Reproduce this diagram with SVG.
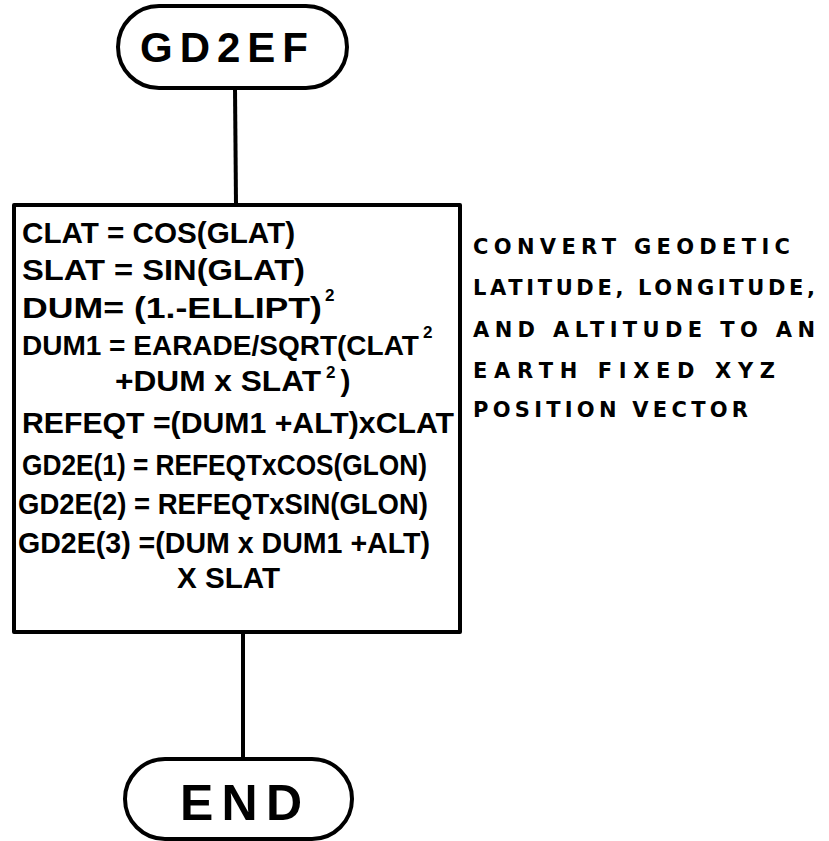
<svg xmlns="http://www.w3.org/2000/svg" width="829" height="841" viewBox="0 0 829 841">
  <style>
    .shape { fill: #ffffff; stroke: #000000; stroke-width: 4; stroke-linejoin: round; }
    .conn { fill: none; stroke: #000000; stroke-width: 4; }
    .t { font-family: "Liberation Sans", "DejaVu Sans", sans-serif; font-weight: bold; fill: #000000; }
    .body { font-size: 30px; }
    .sup { font-size: 17px; }
    .note { font-family: "DejaVu Sans", "Liberation Sans", sans-serif; font-size: 21px; }
    .term { font-size: 42px; }
  </style>
  <rect width="829" height="841" fill="#ffffff"/>

  <!-- connectors -->
  <g id="connectors">
    <line class="conn" x1="235" y1="88" x2="236" y2="205"/>
    <line class="conn" x1="243" y1="632" x2="243" y2="759"/>
  </g>

  <!-- start terminal -->
  <g id="start">
    <rect class="shape" x="118" y="6" width="229" height="82" rx="41" ry="41"/>
    <text class="t term" x="140" y="62" textLength="168" lengthAdjust="spacing">GD2EF</text>
  </g>

  <!-- process box -->
  <g id="process">
    <rect class="shape" x="14" y="205" width="446" height="427"/>
    <text class="t body" x="22" y="243" textLength="273" lengthAdjust="spacingAndGlyphs">CLAT = COS(GLAT)</text>
    <text class="t body" x="22" y="280" textLength="283" lengthAdjust="spacingAndGlyphs">SLAT = SIN(GLAT)</text>
    <text class="t body" x="22" y="318"><tspan textLength="300" lengthAdjust="spacingAndGlyphs">DUM= (1.-ELLIPT)</tspan><tspan class="sup" dx="3" dy="-17">2</tspan></text>
    <text class="t" x="22" y="355" style="font-size:28px">DUM1 = EARADE/SQRT(CLAT<tspan class="sup" dx="4" dy="-17">2</tspan></text>
    <text class="t body" x="115" y="391"><tspan textLength="206" lengthAdjust="spacingAndGlyphs">+DUM x SLAT</tspan><tspan class="sup" dx="5" dy="-13">2</tspan><tspan dx="5" dy="13">)</tspan></text>
    <text class="t body" x="22" y="433" textLength="432" lengthAdjust="spacingAndGlyphs">REFEQT =(DUM1 +ALT)xCLAT</text>
    <text class="t body" x="22" y="475" textLength="405" lengthAdjust="spacingAndGlyphs">GD2E(1) = REFEQTxCOS(GLON)</text>
    <text class="t body" x="18" y="514" textLength="410" lengthAdjust="spacingAndGlyphs">GD2E(2) = REFEQTxSIN(GLON)</text>
    <text class="t body" x="18" y="553" textLength="412" lengthAdjust="spacingAndGlyphs">GD2E(3) =(DUM x DUM1 +ALT)</text>
    <text class="t body" x="177" y="588" textLength="103" lengthAdjust="spacingAndGlyphs">X SLAT</text>
  </g>

  <!-- annotation -->
  <g id="note">
    <text class="t note" x="473" y="254" textLength="317" lengthAdjust="spacing">CONVERT  GEODETIC</text>
    <text class="t note" x="473" y="295" textLength="342" lengthAdjust="spacing">LATITUDE, LONGITUDE,</text>
    <text class="t note" x="473" y="337" textLength="342" lengthAdjust="spacing">AND ALTITUDE TO AN</text>
    <text class="t note" x="473" y="378" textLength="302" lengthAdjust="spacing">EARTH FIXED XYZ</text>
    <text class="t note" x="473" y="417" textLength="275" lengthAdjust="spacing">POSITION VECTOR</text>
  </g>

  <!-- end terminal -->
  <g id="end">
    <rect class="shape" x="125" y="759" width="227" height="80" rx="40" ry="40"/>
    <text class="t" x="180" y="820" textLength="122" lengthAdjust="spacing" style="font-size:50px">END</text>
  </g>
</svg>
